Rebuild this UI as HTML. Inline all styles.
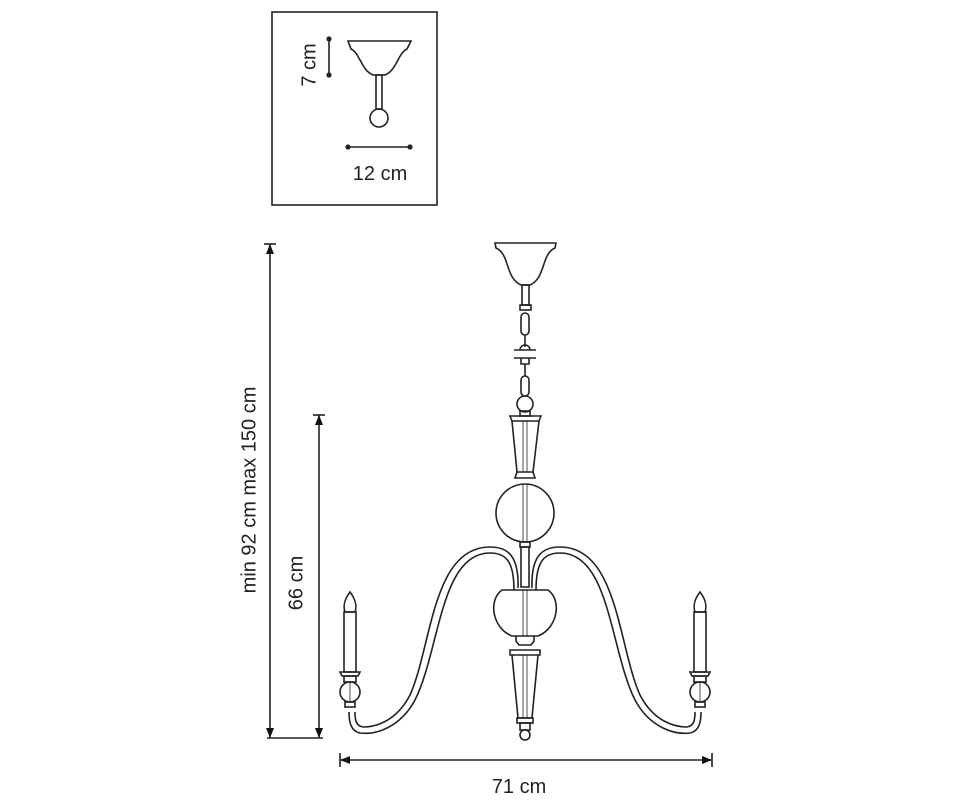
<!DOCTYPE html>
<html><head><style>body{margin:0;background:#fff}svg{display:block}text{font-family:"Liberation Sans",sans-serif;fill:#222}</style></head>
<body>
<svg width="978" height="800" viewBox="0 0 978 800" xmlns="http://www.w3.org/2000/svg">
<defs>
<marker id="a" markerWidth="10" markerHeight="8" refX="10" refY="4" orient="auto-start-reverse" markerUnits="userSpaceOnUse"><path d="M0,0 L10,4 L0,8 Z" fill="#111"/></marker>
<g id="candle" fill="none" stroke="#222" stroke-width="1.6">
<path d="M0,-26 C-6,-18 -7,-12 -5,-6 L5,-6 C7,-12 6,-18 0,-26 Z"/>
<rect x="-6" y="-6" width="12" height="60"/>
<path d="M-10,54 L10,54 L8,58 L-8,58 Z"/>
<rect x="-6" y="58" width="12" height="6"/>
<circle cx="0" cy="74" r="10"/>
<rect x="-5" y="84" width="10" height="5"/>
<line x1="0" y1="64" x2="0" y2="84" stroke-width="0.8"/>
</g>
</defs>
<g stroke="#222" stroke-width="1.6" fill="none">
<!-- inset -->
<rect x="272" y="12" width="165" height="193"/>
<line x1="329" y1="39" x2="329" y2="75"/><circle cx="329" cy="39" r="1.8" fill="#222"/><circle cx="329" cy="75" r="1.8" fill="#222"/>
<line x1="348" y1="147" x2="410" y2="147"/><circle cx="348" cy="147" r="1.8" fill="#222"/><circle cx="410" cy="147" r="1.8" fill="#222"/>
<path d="M348,41 L411,41 L407,49 C398,53 397,70 385,75 L373,75 C361,70 360,53 351,49 Z"/>
<rect x="376" y="75" width="6" height="34"/>
<circle cx="379" cy="118" r="9"/>
<!-- main dims -->
<line x1="270" y1="244" x2="270" y2="738" marker-start="url(#a)" marker-end="url(#a)"/>
<line x1="264" y1="244" x2="276" y2="244"/>
<line x1="319" y1="415" x2="319" y2="738" marker-start="url(#a)" marker-end="url(#a)"/>
<line x1="313" y1="415" x2="325" y2="415"/>
<line x1="267" y1="738" x2="323" y2="738"/>
<line x1="340" y1="760" x2="712" y2="760" marker-start="url(#a)" marker-end="url(#a)"/>
<line x1="340" y1="753" x2="340" y2="767"/><line x1="712" y1="753" x2="712" y2="767"/>
<!-- canopy -->
<path d="M495,243 L556,243 L555,248 C541,254 546,278 530,285 L521,285 C505,278 510,254 496,248 Z"/>
<rect x="522" y="285" width="7" height="20"/>
<rect x="520" y="305" width="11" height="5"/>
<rect x="521" y="313" width="8" height="22" rx="4"/>
<line x1="525" y1="335" x2="525" y2="347"/>
<path d="M520,350 a5,5 0 0 1 10,0"/>
<line x1="514" y1="350" x2="536" y2="350"/><line x1="514" y1="358" x2="536" y2="358"/>
<path d="M521,358 L521,364 L529,364 L529,358"/>
<line x1="525" y1="364" x2="525" y2="376"/>
<rect x="521" y="376" width="8" height="20" rx="4"/>
<circle cx="525" cy="404" r="8"/>
<rect x="520" y="411" width="10" height="5"/>
<!-- upper cone -->
<path d="M510,416 L541,416 L539,421 L512,421 Z"/>
<path d="M512,421 L517,472 L533,472 L539,421"/>
<line x1="523" y1="421" x2="523" y2="472" stroke-width="0.8"/><line x1="527" y1="421" x2="527" y2="472" stroke-width="0.8"/>
<path d="M517,472 L515,478 L535,478 L533,472"/>
<circle cx="525" cy="513" r="29"/>
<line x1="523" y1="484" x2="523" y2="542" stroke-width="0.8"/><line x1="527" y1="484" x2="527" y2="542" stroke-width="0.8"/>
<rect x="520" y="542" width="10" height="5"/>
<rect x="521" y="547" width="8" height="40"/>
<!-- arms -->
<path d="M514,590 C514,560 505,553 490,553 C440,553 440,650 415,700 C400,728 375,735 360,733 C350,731 349,720 349,712"/>
<path d="M518,588 C519,556 508,547 490,547 C432,547 432,646 410,695 C396,722 375,727 363,727 C356,726 355,720 355,712"/>
<path d="M536,590 C536,560 545,553 560,553 C610,553 610,650 635,700 C650,728 675,735 690,733 C700,731 701,720 701,712"/>
<path d="M532,588 C531,556 542,547 560,547 C618,547 618,646 640,695 C654,722 675,727 687,727 C694,726 695,720 695,712"/>
<!-- lower cup -->
<path d="M502,590 L548,590 C562,600 558,628 538,636 L512,636 C492,628 488,600 502,590 Z"/>
<line x1="523" y1="590" x2="523" y2="636" stroke-width="0.8"/><line x1="527" y1="590" x2="527" y2="636" stroke-width="0.8"/>
<path d="M516,636 L516,641 L519,645 L531,645 L534,641 L534,636"/>
<path d="M510,650 L540,650 L540,655 L510,655 Z"/>
<path d="M512,655 L518,718 L532,718 L538,655"/>
<line x1="523" y1="655" x2="523" y2="718" stroke-width="0.8"/><line x1="527" y1="655" x2="527" y2="718" stroke-width="0.8"/>
<rect x="517" y="718" width="16" height="5"/>
<rect x="520" y="723" width="10" height="7"/>
<circle cx="525" cy="735" r="5"/>
</g>
<use href="#candle" x="350" y="618"/>
<use href="#candle" x="700" y="618"/>
<text x="310" y="65" font-size="20" text-anchor="middle" transform="rotate(-90 310 65)" dominant-baseline="middle">7 cm</text>
<text x="380" y="180" font-size="20" text-anchor="middle">12 cm</text>
<text x="250" y="490" font-size="20" text-anchor="middle" transform="rotate(-90 250 490)" dominant-baseline="middle">min 92 cm max 150 cm</text>
<text x="297" y="583" font-size="20" text-anchor="middle" transform="rotate(-90 297 583)" dominant-baseline="middle">66 cm</text>
<text x="519" y="793" font-size="20" text-anchor="middle">71 cm</text>
</svg>
</body></html>
